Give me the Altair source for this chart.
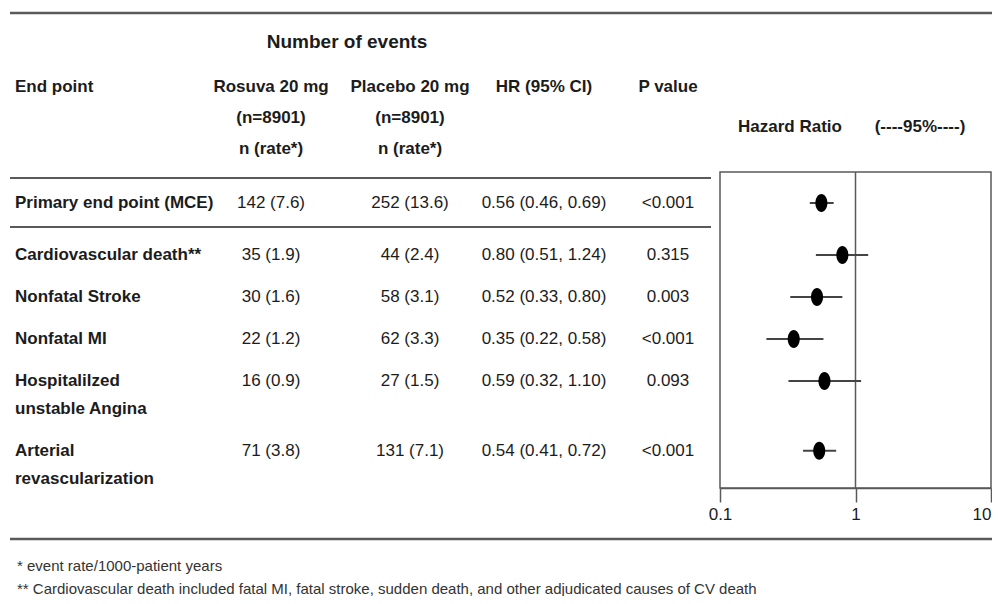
import altair as alt
import pandas as pd

# ---------------- data ----------------
END_POINTS = [
    "Primary end point (MCE)",
    "Cardiovascular death**",
    "Nonfatal Stroke",
    "Nonfatal MI",
    "Hospitalilzed\nunstable Angina",
    "Arterial\nrevascularization",
]
ROSUVA_N = [142, 35, 30, 22, 16, 71]
ROSUVA_RATE = [7.6, 1.9, 1.6, 1.2, 0.9, 3.8]
PLACEBO_N = [252, 44, 58, 62, 27, 131]
PLACEBO_RATE = [13.6, 2.4, 3.1, 3.3, 1.5, 7.1]
HR = [0.56, 0.80, 0.52, 0.35, 0.59, 0.54]
CI_LOW = [0.46, 0.51, 0.33, 0.22, 0.32, 0.41]
CI_HIGH = [0.69, 1.24, 0.80, 0.58, 1.10, 0.72]
P_VALUES = ["<0.001", "0.315", "0.003", "<0.001", "0.093", "<0.001"]
AXIS_TICKS = [0.1, 1, 10]
AXIS_DOMAIN = [0.1, 10]

HEADER_GROUP = "Number of events"
HEADER_LABEL = ["End point"]
HEADER_ROSUVA = ["Rosuva 20 mg", "(n=8901)", "n (rate*)"]
HEADER_PLACEBO = ["Placebo 20 mg", "(n=8901)", "n (rate*)"]
HEADER_HR = ["HR (95% CI)"]
HEADER_P = ["P value"]
FOREST_TITLE = "Hazard Ratio"
FOREST_CI = "(----95%----)"
FOOTNOTES = [
    "* event rate/1000-patient years",
    "** Cardiovascular death included fatal MI, fatal stroke, sudden death, and other adjudicated causes of CV death",
]

# ---------------- layout ----------------
FONT = "Liberation Sans"
TEXT_COLOR = "#1c1c1c"
RULE_COLOR = "#5a5a5a"
ROW_GAP = 0.355
SEP_GAP = 0.32
LINE_STEP = 0.9

slots = []
s = 0.0
for i, lab in enumerate(END_POINTS):
    slots.append(s)
    n_lines = lab.count("\n") + 1
    s += 1 + ROW_GAP + (n_lines - 1) * LINE_STEP + (SEP_GAP if i == 0 else 0)

Y_SCALE = alt.Scale(domain=[0, 10], range=[195, 505], nice=False, zero=False)
X_LOG = alt.Scale(type="log", domain=AXIS_DOMAIN, range=[712, 983], nice=False)
X_AXIS = alt.Axis(
    values=AXIS_TICKS, format="~g", offset=-108, grid=False, title="",
    domainColor=RULE_COLOR, domainWidth=1.5, tickColor=RULE_COLOR, tickWidth=1.5, tickSize=14,
    labelFont=FONT, labelFontSize=17, labelColor=TEXT_COLOR, labelPadding=4,
    labelAlign={"condition": {"test": "datum.value >= 10", "value": "right"}, "value": "center"},
    labelFlush=False, labelOverlap=False)

COL_X = {"label": 7, "rosuva": 263, "events": 339, "placebo": 402, "hr": 536,
         "p": 660, "hazard": 782, "ci": 912, "foot": 9}

body = []
for i in range(len(END_POINTS)):
    for k, line in enumerate(END_POINTS[i].split("\n")):
        body.append({"col": "label", "slot": slots[i] + k * LINE_STEP, "text": line})
    body.append({"col": "rosuva", "slot": slots[i], "text": f"{ROSUVA_N[i]} ({ROSUVA_RATE[i]:.1f})"})
    body.append({"col": "placebo", "slot": slots[i], "text": f"{PLACEBO_N[i]} ({PLACEBO_RATE[i]:.1f})"})
    body.append({"col": "hr", "slot": slots[i], "text": f"{HR[i]:.2f} ({CI_LOW[i]:.2f}, {CI_HIGH[i]:.2f})"})
    body.append({"col": "p", "slot": slots[i], "text": P_VALUES[i]})
body_df = pd.DataFrame(body)

HEAD_SLOT = -3.74
head = []
for col, lines in [("label", HEADER_LABEL), ("rosuva", HEADER_ROSUVA), ("placebo", HEADER_PLACEBO),
                   ("hr", HEADER_HR), ("p", HEADER_P)]:
    for k, line in enumerate(lines):
        head.append({"col": col, "slot": HEAD_SLOT + k, "text": line})
head.append({"col": "hazard", "slot": -2.45, "text": FOREST_TITLE})
head.append({"col": "ci", "slot": -2.45, "text": FOREST_CI})
head_df = pd.DataFrame(head)

group_df = pd.DataFrame([{"col": "events", "slot": -5.19, "text": HEADER_GROUP}])
foot_df = pd.DataFrame([{"col": "foot", "slot": 11.71 + k * 0.75, "text": t} for k, t in enumerate(FOOTNOTES)])


def text_layer(df, col, size, weight, color=TEXT_COLOR):
    align = "left" if col in ("label", "foot") else "center"
    return alt.Chart(df).transform_filter(alt.datum.col == col).mark_text(
        align=align, baseline="middle", font=FONT, fontSize=size, fontWeight=weight, color=color
    ).encode(
        x=alt.value(COL_X[col]),
        y=alt.Y("slot:Q", scale=Y_SCALE, axis=None),
        text="text:N",
    )


layers = []
one = pd.DataFrame({"k": [0]})


def hrule(x1, x2, y, w):
    return alt.Chart(one).mark_rule(color=RULE_COLOR, strokeWidth=w).encode(
        x=alt.value(x1), x2=alt.value(x2), y=alt.value(y))


layers += [hrule(2, 986, 5, 2.5), hrule(2, 703, 170, 2), hrule(2, 703, 219, 2), hrule(2, 984, 531, 2.5)]

layers.append(text_layer(group_df, "events", 19, "bold"))
for col in ["label", "rosuva", "placebo", "hr", "p", "hazard", "ci"]:
    layers.append(text_layer(head_df, col, 17, "bold"))
layers.append(text_layer(body_df, "label", 17, "bold"))
for col in ["rosuva", "placebo", "hr", "p"]:
    layers.append(text_layer(body_df, col, 17, "normal"))
layers.append(text_layer(foot_df, "foot", 15, "normal", "#333333"))

# ---------------- forest plot ----------------
forest_df = pd.DataFrame({"hr": HR, "lo": CI_LOW, "hi": CI_HIGH, "slot": slots})

box = alt.Chart(one).mark_rect(fillOpacity=0, stroke=RULE_COLOR, strokeWidth=1.5).encode(
    x=alt.XDatum(AXIS_DOMAIN[0], type="quantitative", scale=X_LOG, axis=X_AXIS),
    x2=alt.X2Datum(AXIS_DOMAIN[1]),
    y=alt.value(164), y2=alt.value(480),
)
ref = alt.Chart(one).mark_rule(color=RULE_COLOR, strokeWidth=1.5).encode(
    x=alt.XDatum(1, type="quantitative", scale=X_LOG, axis=X_AXIS),
    y=alt.value(164), y2=alt.value(480),
)
ci = alt.Chart(forest_df).mark_rule(color="#444444", strokeWidth=2).encode(
    x=alt.X("lo:Q", scale=X_LOG, axis=X_AXIS),
    x2="hi:Q",
    y=alt.Y("slot:Q", scale=Y_SCALE, axis=None),
)
ELLIPSE = "M0,-1A0.67,1,0,1,1,0,1A0.67,1,0,1,1,0,-1Z"
pts = alt.Chart(forest_df).mark_point(shape=ELLIPSE, filled=True, size=324, color="black", opacity=1).encode(
    x=alt.X("hr:Q", scale=X_LOG, axis=X_AXIS),
    y=alt.Y("slot:Q", scale=Y_SCALE, axis=None),
)

layers += [box, ref, ci, pts]

chart = alt.layer(*layers).properties(
    width=984, height=588, padding=0, autosize="none", background="white"
).configure_view(stroke=None)

chart.save("out.html", embed_options={"renderer": "svg", "actions": False})
